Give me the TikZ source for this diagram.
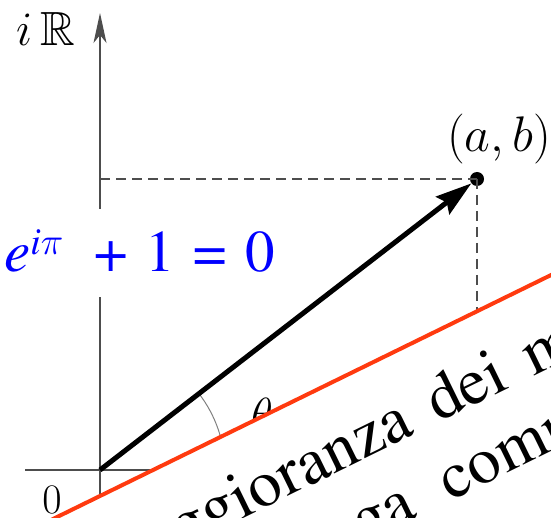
\RequirePackage{fix-cm}
\documentclass[tikz,border=0pt]{standalone}
\usepackage[T1,TU]{fontenc}
\usepackage{amsmath}
\usepackage{amssymb}
\usetikzlibrary{arrows.meta}
\definecolor{edgered}{HTML}{FF3A0F}
\definecolor{axisgray}{HTML}{4D4D4D}
\newcommand{\paperfont}{\fontencoding{T1}\fontfamily{ptm}\selectfont}
\newcommand{\bigsize}[1]{\fontsize{#1}{#1}\selectfont}

\begin{document}
\begin{tikzpicture}[x=1pt, y=1pt, >={Stealth[length=30pt, width=13pt, inset=8pt]},
    axis/.style={draw=axisgray, line width=1.3pt},
    helper/.style={draw=axisgray, line width=1.5pt, dash pattern=on 10pt off 6pt},
    papertext/.style={anchor=base west, inner sep=0pt, transform shape, font=\paperfont\bigsize{66}}]
        \useasboundingbox (0,0) rectangle (551,517);
        \clip (0,0) rectangle (551,517);
        \coordinate (O)    at (100,47);
        \coordinate (ytop) at (100,504);
        \coordinate (ybot) at (100,0);
        \coordinate (xl)   at (25,47);
        \coordinate (xr)   at (300,47);
        \node[circle, fill=black, minimum size=14pt, inner sep=0pt] (P) at (477,338) {};
        \node[anchor=base west, inner sep=0pt, font=\bigsize{48}] (yname) at (16,471) {$i\,\mathbb{R}$};
        \node[anchor=base, inner sep=0pt, font=\bigsize{42}] (zero) at (52,4) {$0$};
        \node[anchor=base west, inner sep=0pt, font=\bigsize{50}] (ab) at (447,365) {$(a,b)$};
        \node[inner sep=0pt, font=\bigsize{45}] (theta) at (262,103) {$\theta$};
        % axes and helper lines
        \draw[axis, ->] (ybot) -- (ytop);
        \draw[axis] (xl) -- (xr);
        \draw[helper] (O |- P) -- (P.center);
        \draw[helper] (P.center) -- (P |- O);
        \draw[gray, line width=1pt] ([shift={(0:125)}]O) arc[start angle=0, end angle=37.66, radius=125];
        \draw[line width=5pt, -{Stealth[length=36pt, width=22pt, inset=5pt]}] (O) -- (P);
        \node[anchor=base west, fill=white, inner xsep=4pt, inner ysep=0pt, text height=63pt, text depth=25pt,
              text=blue, font=\paperfont\bigsize{59}] (euler) at (0,245)
              {\textit{e}\raisebox{17pt}{\bigsize{38}\textit{i}$\pi$}\hspace{31pt}+\hspace{17.5pt}1\hspace{19pt}=\hspace{18.3pt}0};
        % the sheet lying over the picture
        \begin{scope}[shift={(200,70)}, rotate=26.1]
            \coordinate (edgel) at (-300,0);
            \coordinate (edger) at (500,0);
            \fill[white] (-300,-400) rectangle (edger);
            \draw[edgered, line width=4pt] (edgel) -- (edger);
            \node[papertext] (line1) at (224.3,-83.1) {\spaceskip=25pt\relax\llap{maggioranza }dei m};
            \node[papertext] (line2) at (200.8,-158.7) {\spaceskip=35pt\relax\llap{ga }comm};
        \end{scope}
    \end{tikzpicture}
\end{document}
